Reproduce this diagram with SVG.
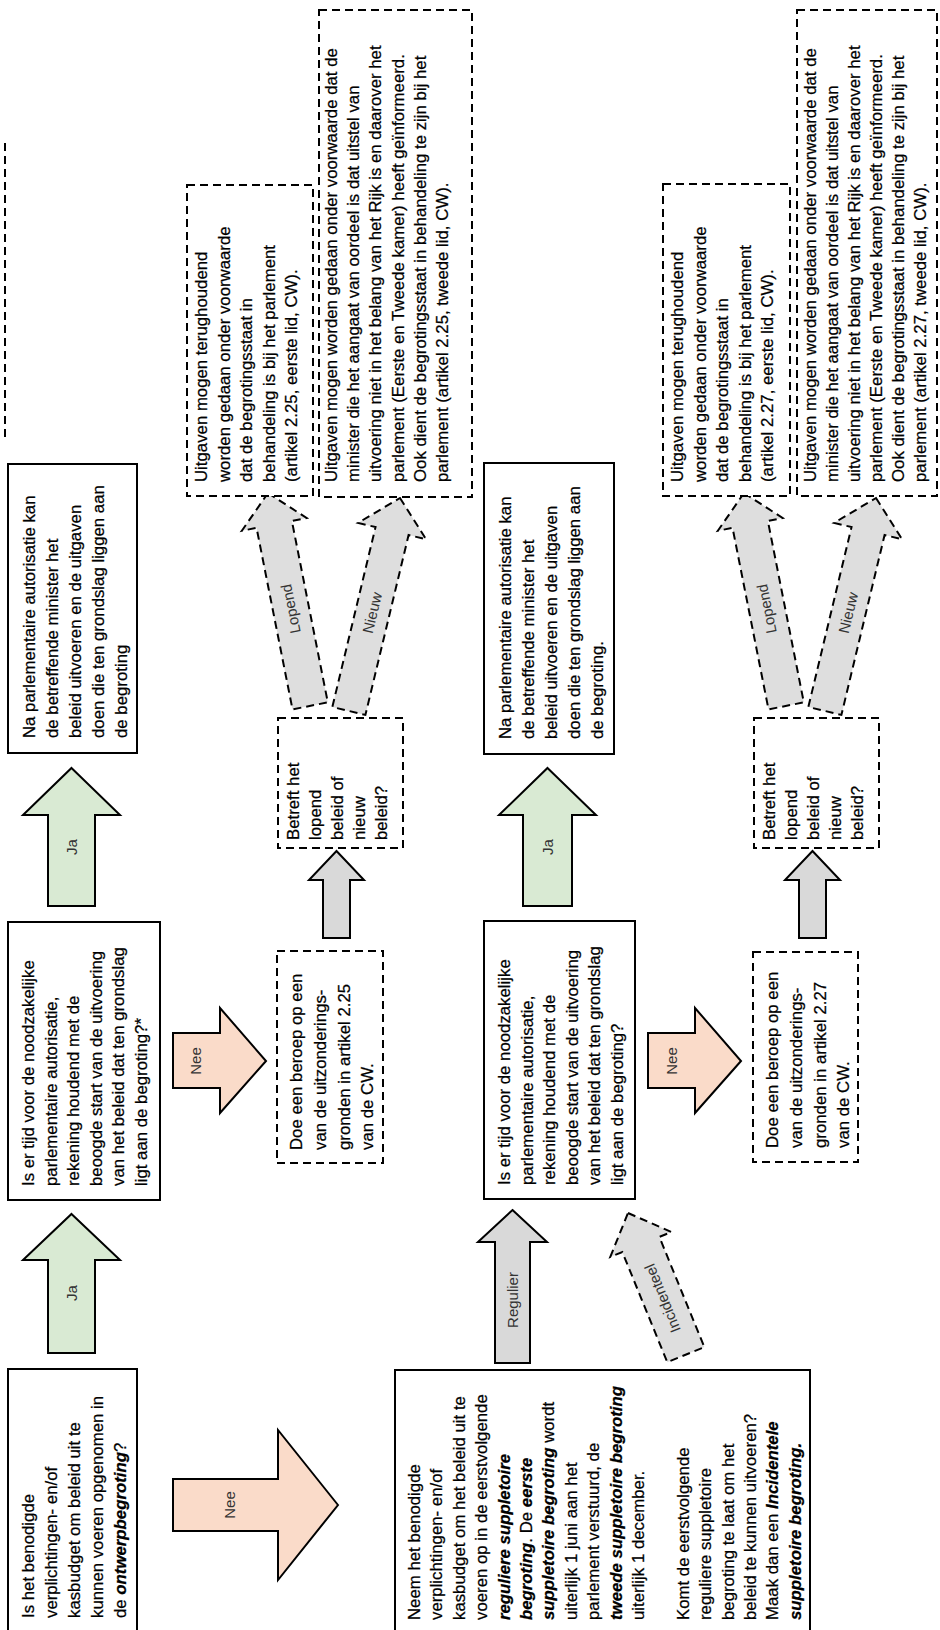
<svg xmlns="http://www.w3.org/2000/svg" width="940" height="1630" viewBox="0 0 940 1630">
<style>
.box{fill:#fff;stroke:#000;stroke-width:2}
.dbox{fill:#fff;stroke:#000;stroke-width:2;stroke-dasharray:8 5}
.t{font-family:"Liberation Sans",Arial,sans-serif;font-size:16.8px;fill:#000;stroke:#000;stroke-width:0.25}
.lbl{font-family:"Liberation Sans",Arial,sans-serif;font-size:15px;fill:#333;text-anchor:middle}
.green{fill:#d9ead3;stroke:#000;stroke-width:2}
.peach{fill:#fadbc9;stroke:#000;stroke-width:2}
.grey{fill:#d9d9d9;stroke:#000;stroke-width:2}
.dgrey{fill:#dedede;stroke:#000;stroke-width:2;stroke-dasharray:8 5}
.bi{font-weight:bold;font-style:italic}
</style>
<rect width="940" height="1630" fill="#fff"/>

<g id="connectors">
  <path class="green" d="M71.5,1214 L120,1260 L95,1260 L95,1353 L48,1353 L48,1260 L23,1260 Z"/>
  <text class="lbl" transform="translate(77,1293) rotate(-90)">Ja</text>
  <path class="green" d="M71.5,768 L120,815 L95,815 L95,906 L48,906 L48,815 L23,815 Z"/>
  <text class="lbl" transform="translate(77,847) rotate(-90)">Ja</text>
  <path class="green" d="M547.5,768 L596,815 L572,815 L572,906 L523,906 L523,815 L499,815 Z"/>
  <text class="lbl" transform="translate(553,847) rotate(-90)">Ja</text>

  <path class="peach" d="M338,1505 L278,1430 L278,1479 L173,1479 L173,1531 L278,1531 L278,1580 Z"/>
  <text class="lbl" transform="translate(235,1505) rotate(-90)">Nee</text>
  <path class="peach" d="M266,1061 L220,1113 L220,1088 L173,1088 L173,1033 L220,1033 L220,1008 Z"/>
  <text class="lbl" transform="translate(201,1061) rotate(-90)">Nee</text>
  <path class="peach" d="M741,1061 L695,1113 L695,1088 L648,1088 L648,1033 L695,1033 L695,1008 Z"/>
  <text class="lbl" transform="translate(677,1061) rotate(-90)">Nee</text>

  <path class="grey" d="M336.5,851 L364,880 L350,880 L350,938 L323,938 L323,880 L309,880 Z"/>
  <path class="grey" d="M812.5,851 L840,880 L826,880 L826,938 L799,938 L799,880 L785,880 Z"/>

  <path class="grey" d="M512.5,1210 L547,1242 L530,1242 L530,1363 L495,1363 L495,1242 L478,1242 Z"/>
  <text class="lbl" transform="translate(518,1300) rotate(-90)">Regulier</text>

  <g transform="translate(628,1213) rotate(-22.2)">
    <path class="dgrey" d="M0,0 L33,34 L20,34 L20,153 L-20,153 L-20,34 L-33,34 Z"/>
    <text class="lbl" transform="translate(5,92) rotate(-90)">Incidenteel</text>
  </g>

  <g transform="translate(268,493) rotate(-11.2)">
    <path class="dgrey" d="M0,0 L33,32 L18,32 L18,217 L-18,217 L-18,32 L-33,32 Z"/>
    <text class="lbl" transform="translate(5,118) rotate(-90)">Lopend</text>
  </g>
  <g transform="translate(400,498) rotate(13.5)">
    <path class="dgrey" d="M0,0 L35,34 L17,34 L17,219 L-17,219 L-17,34 L-35,34 Z"/>
    <text class="lbl" transform="translate(5,118) rotate(-90)">Nieuw</text>
  </g>
  <g transform="translate(744,493) rotate(-11.2)">
    <path class="dgrey" d="M0,0 L33,32 L18,32 L18,217 L-18,217 L-18,32 L-33,32 Z"/>
    <text class="lbl" transform="translate(5,118) rotate(-90)">Lopend</text>
  </g>
  <g transform="translate(876,498) rotate(13.5)">
    <path class="dgrey" d="M0,0 L35,34 L17,34 L17,219 L-17,219 L-17,34 L-35,34 Z"/>
    <text class="lbl" transform="translate(5,118) rotate(-90)">Nieuw</text>
  </g>
</g>

<g id="note-partial">
  <rect class="dbox" x="-60" y="143" width="65" height="293"/>
</g>

<g id="nodeA">
  <rect class="box" x="8" y="1369" width="129" height="272"/>
  <text class="t" transform="translate(34,1618) rotate(-90)">
    <tspan x="0" y="0">Is het benodigde</tspan>
    <tspan x="0" y="23">verplichtingen- en/of</tspan>
    <tspan x="0" y="46">kasbudget om beleid uit te</tspan>
    <tspan x="0" y="69">kunnen voeren opgenomen in</tspan>
    <tspan x="0" y="92">de <tspan class="bi">ontwerpbegroting</tspan>?</tspan>
  </text>
</g>

<g id="nodeB">
  <rect class="box" x="8" y="922" width="152" height="278"/>
  <text class="t" transform="translate(34,1186) rotate(-90)">
    <tspan x="0" y="0">Is er tijd voor de noodzakelijke</tspan>
    <tspan x="0" y="22.5">parlementaire autorisatie,</tspan>
    <tspan x="0" y="45">rekening houdend met de</tspan>
    <tspan x="0" y="67.5">beoogde start van de uitvoering</tspan>
    <tspan x="0" y="90">van het beleid dat ten grondslag</tspan>
    <tspan x="0" y="112.5">ligt aan de begroting?*</tspan>
  </text>
</g>

<g id="nodeC">
  <rect class="box" x="8" y="464" width="129" height="289"/>
  <text class="t" transform="translate(35,738) rotate(-90)">
    <tspan x="0" y="0">Na parlementaire autorisatie kan</tspan>
    <tspan x="0" y="23">de betreffende minister het</tspan>
    <tspan x="0" y="46">beleid uitvoeren en de uitgaven</tspan>
    <tspan x="0" y="69">doen die ten grondslag liggen aan</tspan>
    <tspan x="0" y="92">de begroting</tspan>
  </text>
</g>

<g id="nodeD">
  <rect class="box" x="395" y="1370" width="415" height="272"/>
  <text class="t" transform="translate(420,1620) rotate(-90)">
    <tspan x="0" y="0">Neem het benodigde</tspan>
    <tspan x="0" y="22.4">verplichtingen- en/of</tspan>
    <tspan x="0" y="44.8">kasbudget om het beleid uit te</tspan>
    <tspan x="0" y="67.2">voeren op in de eerstvolgende</tspan>
    <tspan x="0" y="89.6" class="bi">reguliere suppletoire</tspan>
    <tspan x="0" y="112"><tspan class="bi">begroting</tspan>. De <tspan class="bi">eerste</tspan></tspan>
    <tspan x="0" y="134.4"><tspan class="bi">suppletoire begroting</tspan> wordt</tspan>
    <tspan x="0" y="156.8">uiterlijk 1 juni aan het</tspan>
    <tspan x="0" y="179.2">parlement verstuurd, de</tspan>
    <tspan x="0" y="201.6" class="bi">tweede suppletoire begroting</tspan>
    <tspan x="0" y="224">uiterlijk 1 december.</tspan>
    <tspan x="0" y="268.8">Komt de eerstvolgende</tspan>
    <tspan x="0" y="291.2">reguliere suppletoire</tspan>
    <tspan x="0" y="313.6">begroting te laat om het</tspan>
    <tspan x="0" y="336">beleid te kunnen uitvoeren?</tspan>
    <tspan x="0" y="358.4">Maak dan een <tspan class="bi">Incidentele</tspan></tspan>
    <tspan x="0" y="380.8" class="bi">suppletoire begroting.</tspan>
  </text>
</g>

<g id="nodeE">
  <rect class="box" x="484" y="921" width="151" height="278"/>
  <text class="t" transform="translate(510,1185) rotate(-90)">
    <tspan x="0" y="0">Is er tijd voor de noodzakelijke</tspan>
    <tspan x="0" y="22.5">parlementaire autorisatie,</tspan>
    <tspan x="0" y="45">rekening houdend met de</tspan>
    <tspan x="0" y="67.5">beoogde start van de uitvoering</tspan>
    <tspan x="0" y="90">van het beleid dat ten grondslag</tspan>
    <tspan x="0" y="112.5">ligt aan de begroting?</tspan>
  </text>
</g>

<g id="nodeF">
  <rect class="box" x="484" y="463" width="130" height="291"/>
  <text class="t" transform="translate(511,739) rotate(-90)">
    <tspan x="0" y="0">Na parlementaire autorisatie kan</tspan>
    <tspan x="0" y="23">de betreffende minister het</tspan>
    <tspan x="0" y="46">beleid uitvoeren en de uitgaven</tspan>
    <tspan x="0" y="69">doen die ten grondslag liggen aan</tspan>
    <tspan x="0" y="92">de begroting.</tspan>
  </text>
</g>

<g id="nodeG">
  <rect class="dbox" x="277" y="951" width="106" height="212"/>
  <text class="t" transform="translate(302,1150) rotate(-90)">
    <tspan x="0" y="0">Doe een beroep op een</tspan>
    <tspan x="0" y="23.8">van de uitzonderings-</tspan>
    <tspan x="0" y="47.6">gronden in artikel 2.25</tspan>
    <tspan x="0" y="71.4">van de CW.</tspan>
  </text>
</g>

<g id="nodeH">
  <rect class="dbox" x="753" y="952" width="105" height="210"/>
  <text class="t" transform="translate(778,1148) rotate(-90)">
    <tspan x="0" y="0">Doe een beroep op een</tspan>
    <tspan x="0" y="23.8">van de uitzonderings-</tspan>
    <tspan x="0" y="47.6">gronden in artikel 2.27</tspan>
    <tspan x="0" y="71.4">van de CW.</tspan>
  </text>
</g>

<g id="nodeI">
  <rect class="dbox" x="278" y="718" width="125" height="130"/>
  <text class="t" transform="translate(299,840) rotate(-90)">
    <tspan x="0" y="0">Betreft het</tspan>
    <tspan x="0" y="22">lopend</tspan>
    <tspan x="0" y="44">beleid of</tspan>
    <tspan x="0" y="66">nieuw</tspan>
    <tspan x="0" y="88">beleid?</tspan>
  </text>
</g>

<g id="nodeI2">
  <rect class="dbox" x="754" y="718" width="125" height="130"/>
  <text class="t" transform="translate(775,840) rotate(-90)">
    <tspan x="0" y="0">Betreft het</tspan>
    <tspan x="0" y="22">lopend</tspan>
    <tspan x="0" y="44">beleid of</tspan>
    <tspan x="0" y="66">nieuw</tspan>
    <tspan x="0" y="88">beleid?</tspan>
  </text>
</g>

<g id="nodeJ">
  <rect class="dbox" x="187" y="185" width="126" height="311"/>
  <text class="t" transform="translate(207,482) rotate(-90)">
    <tspan x="0" y="0">Uitgaven mogen terughoudend</tspan>
    <tspan x="0" y="22.5">worden gedaan onder voorwaarde</tspan>
    <tspan x="0" y="45">dat de begrotingsstaat in</tspan>
    <tspan x="0" y="67.5">behandeling is bij het parlement</tspan>
    <tspan x="0" y="90">(artikel 2.25, eerste lid, CW).</tspan>
  </text>
</g>

<g id="nodeK">
  <rect class="dbox" x="319" y="10" width="153" height="487"/>
  <text class="t" transform="translate(337,482) rotate(-90)">
    <tspan x="0" y="0">Uitgaven mogen worden gedaan onder voorwaarde dat de</tspan>
    <tspan x="0" y="22.2">minister die het aangaat van oordeel is dat uitstel van</tspan>
    <tspan x="0" y="44.4">uitvoering niet in het belang van het Rijk is en daarover het</tspan>
    <tspan x="0" y="66.6">parlement (Eerste en Tweede kamer) heeft geïnformeerd.</tspan>
    <tspan x="0" y="88.8">Ook dient de begrotingsstaat in behandeling te zijn bij het</tspan>
    <tspan x="0" y="111">parlement (artikel 2.25, tweede lid, CW).</tspan>
  </text>
</g>

<g id="nodeJ2">
  <rect class="dbox" x="663" y="184" width="127" height="312"/>
  <text class="t" transform="translate(683,482) rotate(-90)">
    <tspan x="0" y="0">Uitgaven mogen terughoudend</tspan>
    <tspan x="0" y="22.5">worden gedaan onder voorwaarde</tspan>
    <tspan x="0" y="45">dat de begrotingsstaat in</tspan>
    <tspan x="0" y="67.5">behandeling is bij het parlement</tspan>
    <tspan x="0" y="90">(artikel 2.27, eerste lid, CW).</tspan>
  </text>
</g>

<g id="nodeK2">
  <rect class="dbox" x="797" y="10" width="140" height="486"/>
  <text class="t" transform="translate(816,482) rotate(-90)">
    <tspan x="0" y="0">Uitgaven mogen worden gedaan onder voorwaarde dat de</tspan>
    <tspan x="0" y="22">minister die het aangaat van oordeel is dat uitstel van</tspan>
    <tspan x="0" y="44">uitvoering niet in het belang van het Rijk is en daarover het</tspan>
    <tspan x="0" y="66">parlement (Eerste en Tweede kamer) heeft geïnformeerd.</tspan>
    <tspan x="0" y="88">Ook dient de begrotingsstaat in behandeling te zijn bij het</tspan>
    <tspan x="0" y="110">parlement (artikel 2.27, tweede lid, CW).</tspan>
  </text>
</g>
</svg>
